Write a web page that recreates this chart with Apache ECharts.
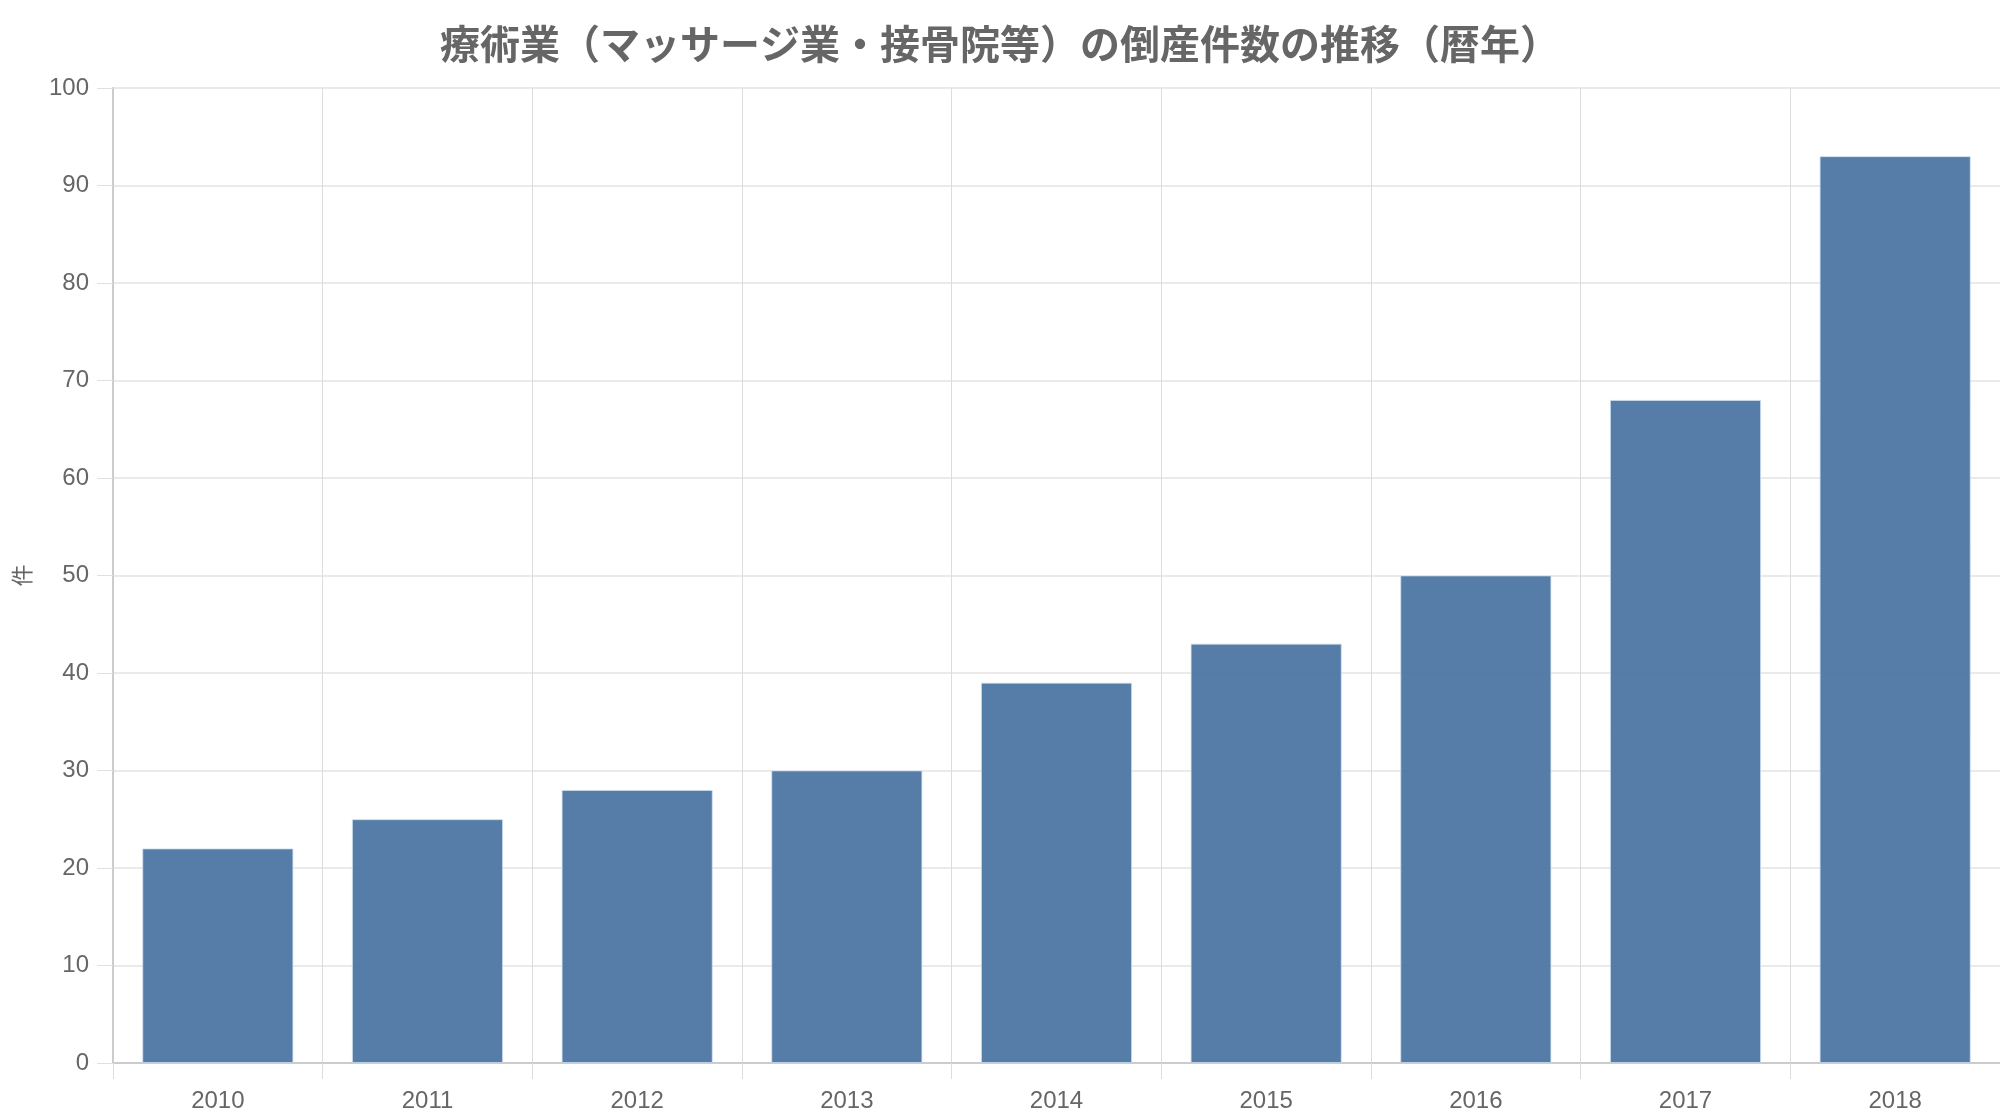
<!DOCTYPE html>
<html>
<head>
<meta charset="utf-8">
<script src="https://cdn.jsdelivr.net/npm/echarts@6/dist/echarts.min.js"></script>
<style>
  html, body { margin: 0; padding: 0; background: #fff; }
  #chart { width: 2000px; height: 1120px; }
</style>
</head>
<body>
<div id="chart"></div>
<script>
const years = ['2010', '2011', '2012', '2013', '2014', '2015', '2016', '2017', '2018'];
const bankruptcies = [22, 25, 28, 30, 39, 43, 50, 68, 93];
const yTicks = { min: 0, max: 100, interval: 10 };

const chart = echarts.init(document.getElementById('chart'));

const option = {
  textStyle: { fontFamily: '"Liberation Sans", "Noto Sans CJK JP", sans-serif' },
  title: {
    text: '療術業（マッサージ業・接骨院等）の倒産件数の推移（暦年）',
    left: 'center',
    top: 19,
    textStyle: {
      fontFamily: '"Noto Sans CJK JP", sans-serif',
      fontSize: 40,
      fontWeight: 'bold',
      color: '#666'
    }
  },
  grid: { left: 113, right: 0, top: 88, bottom: 57 },
  xAxis: {
    type: 'category',
    data: years,
    axisLine: { lineStyle: { color: '#ccc', width: 2 } },
    axisTick: { show: true, length: 16, lineStyle: { color: '#ddd' } },
    axisLabel: { color: '#666', fontSize: 24, margin: 26 },
    splitLine: { show: true, lineStyle: { color: '#dcdcdc', width: 1 } }
  },
  yAxis: {
    type: 'value',
    min: yTicks.min,
    max: yTicks.max,
    interval: yTicks.interval,
    name: '件',
    nameLocation: 'middle',
    nameGap: 80,
    nameTextStyle: { color: '#666', fontSize: 22, fontFamily: '"Noto Sans CJK JP", sans-serif' },
    axisLine: { show: true, lineStyle: { color: '#ccc', width: 2 } },
    axisTick: { show: true, length: 16, lineStyle: { color: '#e0e0e0' } },
    axisLabel: { color: '#666', fontSize: 24, margin: 24 },
    splitLine: { lineStyle: { color: '#e3e3e3', width: 1.5 } }
  },
  series: [{
    name: '倒産件数',
    type: 'bar',
    data: bankruptcies,
    barCategoryGap: '28%',
    itemStyle: {
      color: '#4c76a2',
      opacity: 0.95,
      borderColor: '#d0e0f2',
      borderWidth: 0.8
    }
  }]
};

chart.setOption(option);
</script>
</body>
</html>
